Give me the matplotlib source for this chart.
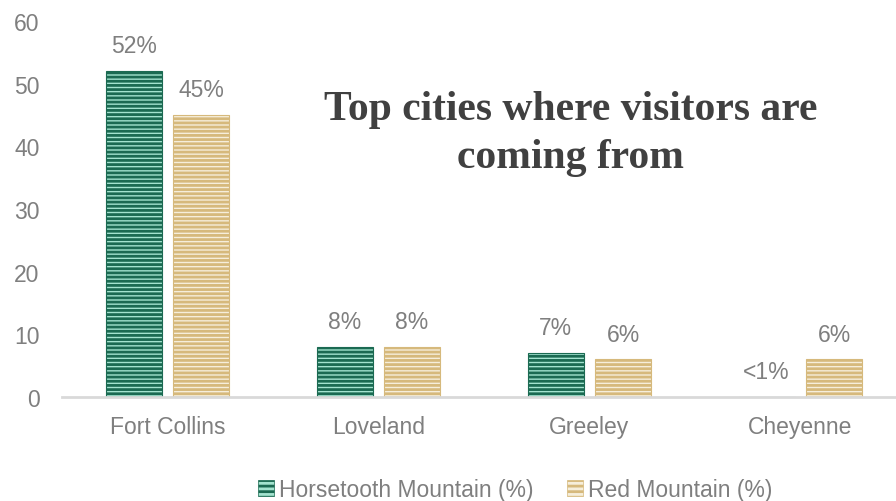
import matplotlib.pyplot as plt
import numpy as np
from matplotlib.patches import Patch

cities = ["Fort Collins", "Loveland", "Greeley", "Cheyenne"]
horsetooth = [52, 8, 7, 0]
red_mountain = [45, 8, 6, 6]
horsetooth_labels = ["52%", "8%", "7%", "<1%"]
red_labels = ["45%", "8%", "6%", "6%"]

plt.rcParams['font.family'] = ['Liberation Sans', 'DejaVu Sans']
plt.rcParams['hatch.linewidth'] = 2.0

grey = "#7f7f7f"
green_dark = "#1b6a52"
green_light = "#a3e3cf"
tan_dark = "#d6b97c"
tan_light = "#f6eedb"
hatch = "----"
fs = 16.5

fig = plt.figure(figsize=(8.96, 5.02), dpi=100)
ax = fig.add_axes([0.069, 0.207, 0.942, 0.749])

x = np.arange(len(cities))
w = 0.265
off = 0.16
ax.bar(x - off, horsetooth, w, color=green_light, edgecolor=green_dark,
       hatch=hatch, linewidth=0.8)
ax.bar(x + off, red_mountain, w, color=tan_light, edgecolor=tan_dark,
       hatch=hatch, linewidth=0.8)

# value labels
for i in range(len(cities)):
    ax.annotate(horsetooth_labels[i], (x[i] - off, horsetooth[i]), xytext=(0, 10),
                textcoords="offset points", ha="center", va="bottom",
                fontsize=fs, color=grey)
    ax.annotate(red_labels[i], (x[i] + off, red_mountain[i]), xytext=(0, 10),
                textcoords="offset points", ha="center", va="bottom",
                fontsize=fs, color=grey)

ax.set_xlim(-0.5, 3.5)
ax.set_ylim(0, 60)
ax.set_yticks(range(0, 61, 10))
ax.set_xticks(x)
ax.set_xticklabels(cities)
ax.tick_params(axis="both", length=0, labelsize=fs, labelcolor=grey)
ax.tick_params(axis="y", pad=16)
ax.tick_params(axis="x", pad=13)
for s in ["top", "right", "left"]:
    ax.spines[s].set_visible(False)
ax.spines["bottom"].set_color("#d9d9d9")
ax.spines["bottom"].set_linewidth(2)

ax.text(0.603, 0.702, "Top cities where visitors are\ncoming from",
        transform=ax.transAxes, ha="center", va="center",
        fontsize=30, fontweight="bold", color="#404040",
        family=["Liberation Serif", "DejaVu Serif"], linespacing=1.35)

handles = [Patch(facecolor=green_light, edgecolor=green_dark, hatch="---", linewidth=0.5),
           Patch(facecolor=tan_light, edgecolor=tan_dark, hatch="---", linewidth=0.5)]
leg = fig.legend(handles, ["Horsetooth Mountain (%)", "Red Mountain (%)"],
                 loc="center", bbox_to_anchor=(0.575, 0.022), ncol=2, frameon=False,
                 fontsize=fs, handlelength=0.7, handleheight=0.7, handletextpad=0.2,
                 columnspacing=1.5)
for t in leg.get_texts():
    t.set_color(grey)

fig.savefig("out.png", dpi=100)
